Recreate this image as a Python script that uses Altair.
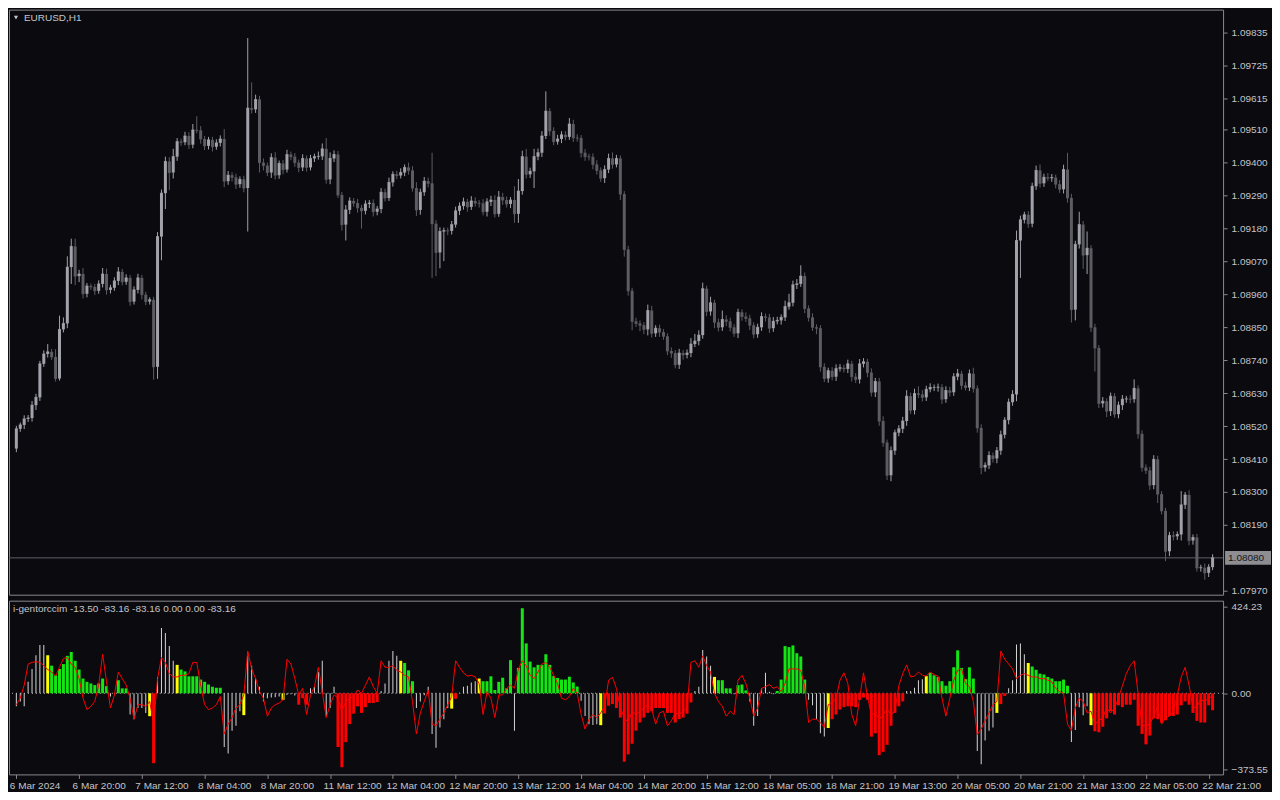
import altair as alt
import pandas as pd

# ---------------- price data (5th-digit points: price = 1 + v/100000) ----------------
first_open_pts = 8445
close_pts = [
    8511, 8524, 8544, 8547, 8590, 8616, 8728, 8761, 8768, 8751,
    8679, 8843, 8863, 9051, 9120, 9021, 9028, 8962, 8988, 8985,
    8972, 8995, 9028, 8975, 8982, 9005, 9035, 9002, 9015, 8936,
    8975, 9015, 8959, 8936, 8942, 8718, 9153, 9298, 9404, 9367,
    9420, 9470, 9468, 9489, 9460, 9509, 9508, 9479, 9456, 9476,
    9453, 9466, 9479, 9338, 9358, 9351, 9328, 9344, 9315, 9582,
    9578, 9611, 9400, 9390, 9367, 9417, 9358, 9397, 9377, 9427,
    9420, 9400, 9384, 9414, 9384, 9414, 9420, 9421, 9446, 9344,
    9414, 9427, 9292, 9193, 9242, 9272, 9265, 9249, 9239, 9262,
    9265, 9236, 9245, 9301, 9282, 9334, 9361, 9357, 9367, 9384,
    9374, 9315, 9242, 9301, 9338, 9331, 9196, 9100, 9170, 9173,
    9172, 9193, 9239, 9255, 9269, 9252, 9272, 9265, 9264, 9236,
    9269, 9275, 9229, 9285, 9275, 9262, 9275, 9229, 9305, 9420,
    9361, 9371, 9420, 9433, 9489, 9572, 9506, 9470, 9479, 9493,
    9486, 9529, 9483, 9482, 9433, 9420, 9419, 9394, 9374, 9348,
    9377, 9414, 9394, 9414, 9295, 9110, 8972, 8870, 8863, 8857,
    8843, 8906, 8830, 8847, 8834, 8820, 8771, 8764, 8725, 8764,
    8758, 8764, 8794, 8804, 8824, 8979, 8903, 8932, 8867, 8850,
    8876, 8870, 8850, 8830, 8900, 8886, 8880, 8857, 8827, 8850,
    8886, 8883, 8847, 8870, 8873, 8883, 8919, 8932, 8992, 8995,
    9021, 8913, 8883, 8850, 8847, 8718, 8679, 8705, 8685, 8712,
    8715, 8711, 8728, 8685, 8676, 8728, 8735, 8699, 8633, 8669,
    8537, 8465, 8356, 8438, 8498, 8511, 8537, 8620, 8573, 8629,
    8626, 8616, 8643, 8649, 8649, 8650, 8610, 8639, 8633, 8685,
    8695, 8656, 8649, 8695, 8646, 8514, 8382, 8389, 8422, 8412,
    8438, 8491, 8540, 8600, 8626, 9140, 9209, 9226, 9196, 9321,
    9374, 9331, 9351, 9348, 9350, 9328, 9311, 9377, 9282, 8909,
    9127, 9193, 9091, 9114, 8850, 8781, 8596, 8603, 8570, 8620,
    8560, 8590, 8610, 8611, 8610, 8646, 8494, 8382, 8372, 8323,
    8409, 8293, 8237, 8102, 8155, 8152, 8158, 8257, 8290, 8138,
    8148, 8046, 8047, 8030, 8049, 8080,
]
wick_up_pts = [
    10, 8, 12, 10, 14, 12, 10, 12, 26, 10,
    26, 46, 20, 36, 26, 26, 14, 20, 10, 8,
    10, 12, 20, 18, 10, 12, 16, 10, 12, 10,
    12, 14, 10, 10, 8, 10, 15, 12, 16, 14,
    26, 12, 10, 14, 12, 20, 46, 14, 10, 10,
    10, 12, 12, 33, 14, 10, 12, 10, 12, 234,
    86, 16, 12, 14, 10, 14, 18, 10, 12, 16,
    10, 12, 10, 14, 10, 12, 10, 16, 18, 36,
    20, 14, 12, 10, 16, 12, 10, 14, 10, 12,
    10, 12, 10, 14, 12, 16, 10, 12, 14, 10,
    16, 14, 20, 12, 14, 12, 102, 12, 14, 10,
    10, 12, 14, 12, 14, 10, 16, 12, 10, 14,
    12, 14, 16, 20, 14, 12, 10, 46, 40, 20,
    26, 12, 26, 14, 16, 66, 10, 12, 14, 12,
    12, 20, 14, 12, 10, 12, 10, 12, 14, 10,
    14, 16, 20, 12, 10, 10, 12, 10, 12, 10,
    10, 20, 16, 10, 12, 10, 10, 12, 10, 14,
    10, 12, 20, 24, 16, 20, 10, 20, 10, 12,
    30, 14, 12, 10, 12, 10, 14, 12, 10, 12,
    14, 10, 12, 14, 12, 10, 20, 30, 14, 16,
    36, 12, 10, 14, 10, 10, 12, 10, 12, 14,
    12, 10, 14, 10, 12, 16, 12, 10, 14, 12,
    12, 16, 10, 14, 10, 12, 14, 20, 12, 16,
    24, 14, 12, 14, 10, 12, 10, 14, 12, 12,
    16, 10, 12, 14, 20, 10, 12, 10, 14, 10,
    12, 14, 10, 12, 14, 33, 14, 10, 12, 12,
    16, 20, 12, 14, 12, 10, 14, 16, 56, 14,
    12, 43, 12, 56, 10, 12, 10, 14, 10, 12,
    10, 12, 14, 10, 12, 30, 10, 12, 10, 12,
    14, 12, 10, 10, 12, 14, 10, 46, 10, 16,
    10, 12, 10, 14, 10, 12,
]
wick_dn_pts = [
    12, 10, 14, 10, 12, 16, 12, 10, 12, 10,
    10, 7, 10, 16, 56, 30, 20, 16, 12, 10,
    14, 10, 12, 16, 12, 10, 14, 12, 10, 14,
    10, 12, 16, 12, 10, 43, 40, 79, 53, 59,
    20, 14, 12, 10, 14, 12, 10, 16, 14, 12,
    16, 10, 12, 20, 12, 14, 16, 12, 14, 145,
    14, 12, 33, 16, 12, 18, 14, 12, 16, 10,
    12, 14, 16, 12, 14, 10, 12, 10, 12, 14,
    16, 12, 10, 20, 53, 14, 12, 16, 59, 12,
    14, 16, 12, 14, 12, 10, 14, 12, 10, 12,
    14, 12, 20, 16, 12, 14, 181, 79, 53, 99,
    14, 12, 10, 14, 12, 16, 10, 12, 14, 12,
    16, 14, 12, 10, 16, 12, 14, 30, 30, 12,
    14, 12, 56, 12, 14, 10, 16, 12, 10, 14,
    12, 10, 14, 12, 16, 14, 12, 16, 14, 12,
    16, 12, 14, 10, 20, 24, 16, 30, 12, 20,
    16, 20, 14, 12, 16, 12, 14, 16, 12, 14,
    16, 12, 14, 10, 14, 12, 16, 14, 20, 14,
    12, 16, 14, 12, 16, 14, 12, 16, 14, 12,
    12, 14, 16, 12, 10, 14, 12, 10, 12, 14,
    10, 16, 14, 12, 20, 16, 12, 14, 12, 14,
    10, 12, 14, 16, 12, 14, 12, 16, 14, 16,
    16, 14, 16, 20, 14, 12, 14, 16, 12, 14,
    12, 14, 12, 10, 12, 14, 16, 12, 14, 12,
    12, 14, 10, 12, 14, 16, 23, 14, 12, 14,
    16, 14, 12, 14, 12, 23, 125, 12, 14, 12,
    12, 14, 12, 10, 12, 14, 12, 14, 16, 43,
    36, 14, 46, 63, 16, 79, 16, 14, 20, 16,
    12, 14, 16, 12, 14, 12, 16, 14, 12, 16,
    14, 30, 12, 33, 16, 14, 12, 20, 14, 16,
    14, 12, 12, 23, 14, 10,
]

# ---------------- indicator data ----------------
hist_vals = [
    -64, -40, -64, 56, 119, 186, 236, 236, 186, 135,
    88, 119, 143, 183, 202, 159, 116, 72, 56, 48,
    40, 48, 72, 35, -16, -5, 64, 24, 24, -104,
    -127, -72, -72, -96, -112, -342, 80, 319, 295, 231,
    159, 139, 116, 107, 83, 83, 83, 67, 56, 43,
    32, 27, 27, -263, -295, -183, -159, -88, -107, 183,
    135, 72, 32, -40, -24, -21, -19, -16, -32, -8,
    -5, -11, -56, -24, -56, 24, 32, 104, 159, -111,
    -72, 32, -263, -362, -239, -151, -100, -64, -96, -68,
    -48, -48, -43, 11, 48, 159, 207, 183, 159, 148,
    112, 59, -72, -40, -10, 32, -199, -266, -167, -127,
    -72, -75, -27, 3, 32, 37, 53, 59, 72, 59,
    59, 83, 16, 56, 76, 24, 162, -183, 124, 416,
    244, 155, 127, 139, 139, 191, 139, 84, 75, 67,
    67, 81, 53, 33, -37, -111, -151, -155, -151, -156,
    -99, -61, -53, -72, -119, -335, -299, -247, -183, -143,
    -119, -96, -88, -72, -72, -72, -96, -96, -143, -127,
    -119, -100, -45, 11, 32, 212, 180, 135, 80, 64,
    64, 24, 24, -5, 40, 43, 14, -40, -159, -111,
    24, 100, 8, -5, 11, 67, 231, 226, 234, 196,
    180, 67, -32, -59, -127, -196, -212, -170, -127, -104,
    -80, -68, -64, -64, -68, -32, -21, -32, -212, -196,
    -303, -287, -252, -159, -96, -64, -40, 11, 11, 27,
    64, 69, 84, 100, 88, 80, 59, 37, 59, 127,
    210, 124, 69, 127, 72, -282, -347, -231, -183, -167,
    -96, -53, -13, 24, 64, 239, 244, 191, 148, 131,
    115, 96, 92, 80, 72, 59, 59, 67, 37, -239,
    -180, -68, -107, -64, -156, -186, -191, -164, -123, -88,
    -104, -59, -68, -56, -56, -32, -159, -199, -250, -207,
    -123, -127, -143, -132, -111, -111, -104, -59, -40, -56,
    -96, -135, -143, -143, -59, -83.16,
]
hist_colors = list(
    "WWWWWWWWYG" "GGGGGGGGGG" "GGGGWWGGGW" "WWWWYRWWWW" "WYGGGGGGGG"
    "GGGWWWWWYW" "WWWWWWWWYW" "WWRRRWWWWW" "WWRRRRRRRR" "RRRWWWWWYG"
    "GGWWWWWWWW" "WYRWWWWWYG" "GGGGGGGWGG" "GGGGGGGGGG" "GGGGWWWWWY"
    "RRRRRRRRRR" "RRRRRRRRRR" "RRRWWWWWYG" "GGGWGGGWWW" "WWWWGGGGGG"
    "GGWWWWWYRR" "RRRRRRRRRR" "RRRRRRRWWW" "WWYGGGGGGG" "GGGGGWWWWW"
    "YRRWWWWWYG" "GGGGGGGGGW" "WWWWYRRRRR" "RRRRRRRRRR" "RRRRRRRRRR"
    "RRRRRR"
)
line_vals = [
    -56, -24, 40, 143, 151, 155, 151, 135, 116, 104,
    84, 127, 170, 175, 143, 127, 72, -24, -80, -64,
    -40, 40, 191, 56, -72, -8, 104, 72, 40, -24,
    -127, -56, -56, -64, -40, -151, 72, 175, 151, 96,
    80, 80, 88, 88, 96, 151, 151, 40, -56, -80,
    -72, -56, -16, -199, -151, -119, -72, -56, -8, 207,
    119, 72, 8, -24, -112, -72, -56, -48, -32, 167,
    143, 72, -8, 24, -104, -8, 32, 127, 8, -119,
    -56, -8, -24, -88, -40, -24, -16, 16, 0, 40,
    80, 32, 0, 159, 127, 127, 135, 112, 104, 88,
    80, -40, -199, -96, -40, 16, -151, -159, -127, -96,
    -56, -16, 159, 127, 100, 84, 88, 80, 48, -104,
    8, -24, -119, -8, -8, 24, 40, 24, 119, 159,
    135, 88, 72, 104, 143, 151, 127, 88, 48, -24,
    -32, -16, 24, 0, -104, -175, -127, -104, -119, -96,
    -64, 64, 78, 24, -72, -119, -143, -88, -104, -88,
    -72, -56, -80, -151, -96, -88, -159, -135, -96, -104,
    -88, -72, 151, 159, 127, 183, 135, 104, 0, -40,
    -64, -112, -88, -104, 64, 88, 48, -24, -112, -72,
    24, 32, 43, 24, 32, 8, 48, 119, 119, 119,
    112, 32, -143, -127, -127, -143, -167, -56, -48, -24,
    64, 100, 48, -104, -159, -24, 100, -16, -104, -96,
    -127, -104, -80, -104, -88, 37, 96, 139, 80, 84,
    104, 88, 84, 104, 91, 84, -24, -112, -24, 64,
    112, 119, 48, 32, -40, -202, -175, -135, -96, -56,
    -40, 207, 167, 143, 119, 72, 88, 96, 88, 80,
    80, 72, 72, 64, 56, 24, 8, 0, -151, -183,
    -72, -24, -40, -96, -88, -151, -135, -119, -72, -96,
    -72, -24, 37, 96, 135, 159, 0, -159, -159, -151,
    -112, -64, -151, -119, -112, -88, -8, 80, 127, 40,
    -72, -64, -32, -40, -24, -13.5,
]

x_labels = ["6 Mar 2024", "6 Mar 20:00", "7 Mar 12:00", "8 Mar 04:00", "8 Mar 20:00",
            "11 Mar 12:00", "12 Mar 04:00", "12 Mar 20:00", "13 Mar 12:00", "14 Mar 04:00",
            "14 Mar 20:00", "15 Mar 12:00", "18 Mar 05:00", "18 Mar 21:00", "19 Mar 13:00",
            "20 Mar 05:00", "20 Mar 21:00", "21 Mar 13:00", "22 Mar 05:00", "22 Mar 21:00"]
x_label_step = 16
price_ticks = [1.09835, 1.09725, 1.09615, 1.09510, 1.09400, 1.09290, 1.09180, 1.09070,
               1.08960, 1.08850, 1.08740, 1.08630, 1.08520, 1.08410, 1.08300, 1.08190, 1.07970]
ind_ticks = [-373.55, 0.0, 424.23]
symbol_title = "EURUSD,H1"
ind_title = "i-gentorccim -13.50 -83.16 -83.16 0.00 0.00 -83.16"

# ---------------- styling ----------------
BG = "#0a0a0f"
BULL = "#a2a2aa"
BEAR = "#5c5c62"
TXT = "#c4c4c8"
FRAME = "#8a8a8e"
PALETTE = {"G": "#14e614", "R": "#ff0000", "Y": "#ffff00", "W": "#d6d6d6"}
FONT = "Liberation Sans"
W = 1216
H1 = 586
H2 = 174

n = len(close_pts)
idx = list(range(n))
opens = [first_open_pts] + close_pts[:-1]
o = [1 + v / 100000 for v in opens]
c = [1 + v / 100000 for v in close_pts]
hi = [max(a, b) + u / 100000 for a, b, u in zip(o, c, wick_up_pts)]
lo = [min(a, b) - d / 100000 for a, b, d in zip(o, c, wick_dn_pts)]
df = pd.DataFrame({"i": idx, "open": o, "close": c, "high": hi, "low": lo,
                   "col": [BULL if b >= a else BEAR for a, b in zip(o, c)]})

xscale = alt.Scale(domain=[-0.6, 306.4], nice=False, zero=False)
yscale = alt.Scale(domain=[1.07957, 1.09911], nice=False, zero=False)
yaxis = alt.Axis(orient="right", values=price_ticks, format=".5f", title=None, grid=False,
                 labelColor=TXT, tickColor=FRAME, domain=False, tickSize=4, labelPadding=4,
                 labelFontSize=10, labelFont=FONT)
color = alt.Color("col:N", scale=None, legend=None)

base = alt.Chart(df).encode(x=alt.X("i:Q", scale=xscale, axis=None))
wicks = base.mark_rule(strokeWidth=1).encode(
    y=alt.Y("low:Q", scale=yscale, axis=yaxis), y2="high:Q", color=color)
bodies = base.mark_bar(size=3).encode(
    y=alt.Y("open:Q", scale=yscale, axis=yaxis), y2="close:Q", color=color)
dojis = base.mark_tick(orient="horizontal", size=3, thickness=1).encode(
    y=alt.Y("close:Q", scale=yscale, axis=yaxis), color=color)

last = c[-1]
pdf = pd.DataFrame({"p": [last], "t": [f"{last:.5f}"]})
price_line = alt.Chart(pdf).mark_rule(color="#606066", strokeWidth=1).encode(
    y=alt.Y("p:Q", scale=yscale, axis=yaxis))
price_box = alt.Chart(pdf).mark_point(
    shape="M-1,-0.3L1,-0.3L1,0.3L-1,0.3Z", filled=True, fill="#8e8e92", strokeWidth=0,
    size=46 * 46, opacity=1).encode(x=alt.value(W + 25), y=alt.Y("p:Q", scale=yscale, axis=yaxis))
price_txt = alt.Chart(pdf).mark_text(align="left", baseline="middle", color="#141418",
                                     font=FONT, fontSize=10).encode(
    x=alt.value(W + 5), y=alt.Y("p:Q", scale=yscale, axis=yaxis), text="t:N")

tdf = pd.DataFrame({"t": [symbol_title]})
title_txt = alt.Chart(tdf).mark_text(align="left", baseline="middle", color=TXT,
                                     font=FONT, fontSize=10).encode(
    x=alt.value(15), y=alt.value(8), text="t:N")
title_tri = alt.Chart(tdf).mark_point(shape="triangle-down", filled=True, size=18,
                                      color=TXT, opacity=1).encode(
    x=alt.value(7), y=alt.value(8))

top = alt.layer(price_line, wicks, bodies, dojis, price_box, price_txt, title_tri, title_txt
                ).properties(width=W, height=H1)

# ---------------- indicator panel ----------------
dfi = pd.DataFrame({"i": idx, "h": hist_vals, "c": hist_colors,
                    "col": [PALETTE[k] for k in hist_colors], "line": line_vals, "z0": [0] * n})
ybot = alt.Scale(domain=[-397, 453], nice=False, zero=False)
ybaxis = alt.Axis(orient="right", values=ind_ticks, format=".2f", title=None, grid=False,
                  labelColor=TXT, tickColor=FRAME, domain=False, tickSize=4, labelPadding=4,
                  labelFontSize=10, labelFont=FONT)
label_expr = "[" + ",".join("'" + s + "'" for s in x_labels) + "][round(datum.value/%d)]" % x_label_step
xaxis = alt.Axis(values=list(range(0, n, x_label_step))[:len(x_labels)], labelExpr=label_expr,
                 labelAlign="left", labelColor=TXT, tickColor=FRAME, domain=False, tickSize=4,
                 labelPadding=2, labelFontSize=10, labelFont=FONT, grid=False, title=None,
                 labelFlush=False, labelOverlap=False, labelBound=False, labelOffset=-7)

bb = alt.Chart(dfi).encode(x=alt.X("i:Q", scale=xscale, axis=xaxis))
zero_line = alt.Chart(pd.DataFrame({"z": [0]})).mark_rule(
    strokeDash=[1, 3], color="#b4b4b4", strokeWidth=1).encode(
    y=alt.Y("z:Q", scale=ybot, axis=ybaxis))
white_bars = bb.transform_filter("datum.c == 'W'").mark_bar(size=1).encode(
    y=alt.Y("h:Q", scale=ybot, axis=ybaxis), y2="z0:Q",
    color=alt.Color("col:N", scale=None, legend=None))
col_bars = bb.transform_filter("datum.c != 'W'").mark_bar(size=3).encode(
    y=alt.Y("h:Q", scale=ybot, axis=ybaxis), y2="z0:Q",
    color=alt.Color("col:N", scale=None, legend=None))
red_line = bb.mark_line(color=PALETTE["R"], strokeWidth=1).encode(
    y=alt.Y("line:Q", scale=ybot, axis=ybaxis))
ind_txt = alt.Chart(pd.DataFrame({"t": [ind_title]})).mark_text(
    align="left", baseline="middle", color=TXT, font=FONT, fontSize=10).encode(
    x=alt.value(4), y=alt.value(8), text="t:N")

bottom = alt.layer(zero_line, white_bars, col_bars, red_line, ind_txt).properties(width=W, height=H2)

chart = alt.vconcat(top, bottom, spacing=3).properties(
    background=BG, padding={"left": 0, "top": 0, "right": 0, "bottom": 0}
).configure_view(stroke=FRAME, strokeWidth=1, fill=BG)

chart.save("out.html", embed_options={"renderer": "svg", "actions": False})
